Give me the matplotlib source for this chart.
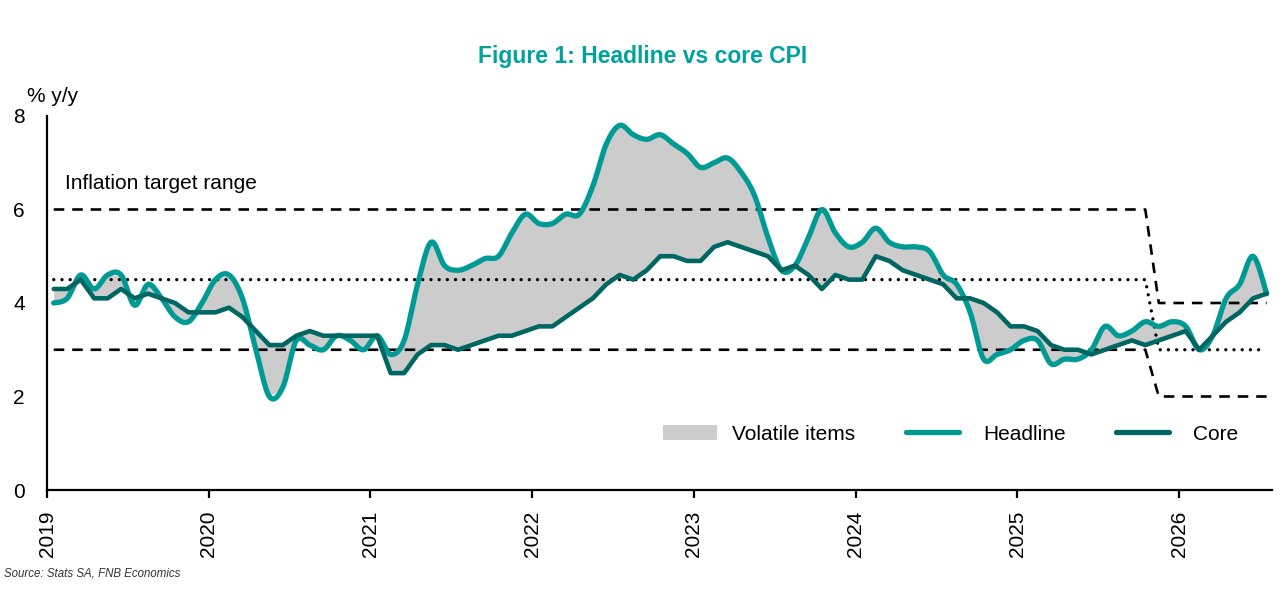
import numpy as np
import pandas as pd
import matplotlib
matplotlib.use("Agg")
import matplotlib.pyplot as plt
from matplotlib import font_manager
from matplotlib.patches import Patch
from matplotlib.lines import Line2D

# ---------------- data ----------------
start_month = "2019-01"
end_month = "2026-07"

headline = [
    # 2019
    4.0, 4.1, 4.6, 4.3, 4.6, 4.6, 3.95, 4.4, 4.1, 3.7, 3.6, 4.0,
    # 2020
    4.5, 4.6, 4.1, 3.0, 2.0, 2.2, 3.2, 3.1, 3.0, 3.3, 3.2, 3.0,
    # 2021
    3.3, 2.9, 3.2, 4.4, 5.3, 4.8, 4.7, 4.8, 4.95, 5.0, 5.5, 5.9,
    # 2022
    5.7, 5.7, 5.9, 5.9, 6.5, 7.4, 7.8, 7.6, 7.5, 7.6, 7.4, 7.2,
    # 2023
    6.9, 7.0, 7.1, 6.8, 6.3, 5.4, 4.7, 4.8, 5.4, 6.0, 5.5, 5.2,
    # 2024
    5.3, 5.6, 5.3, 5.2, 5.2, 5.1, 4.6, 4.4, 3.8, 2.8, 2.9, 3.0,
    # 2025
    3.2, 3.2, 2.7, 2.8, 2.8, 3.0, 3.5, 3.3, 3.4, 3.6, 3.5, 3.6,
    # 2026
    3.5, 3.0, 3.3, 4.1, 4.4, 5.0, 4.2,
]

core = [
    # 2019
    4.3, 4.3, 4.5, 4.1, 4.1, 4.3, 4.1, 4.2, 4.1, 4.0, 3.8, 3.8,
    # 2020
    3.8, 3.9, 3.7, 3.4, 3.1, 3.1, 3.3, 3.4, 3.3, 3.3, 3.3, 3.3,
    # 2021
    3.3, 2.5, 2.5, 2.9, 3.1, 3.1, 3.0, 3.1, 3.2, 3.3, 3.3, 3.4,
    # 2022
    3.5, 3.5, 3.7, 3.9, 4.1, 4.4, 4.6, 4.5, 4.7, 5.0, 5.0, 4.9,
    # 2023
    4.9, 5.2, 5.3, 5.2, 5.1, 5.0, 4.7, 4.8, 4.6, 4.3, 4.6, 4.5,
    # 2024
    4.5, 5.0, 4.9, 4.7, 4.6, 4.5, 4.4, 4.1, 4.1, 4.0, 3.8, 3.5,
    # 2025
    3.5, 3.4, 3.1, 3.0, 3.0, 2.9, 3.0, 3.1, 3.2, 3.1, 3.2, 3.3,
    # 2026
    3.4, 3.0, 3.3, 3.6, 3.8, 4.1, 4.2,
]

# inflation target range (breakpoints: Jan-2019, Oct-2025, Nov-2025, Jul-2026)
target_dates = ["2019-01", "2025-10", "2025-11", "2026-07"]
target_upper = [6.0, 6.0, 4.0, 4.0]
target_mid = [4.5, 4.5, 3.0, 3.0]
target_lower = [3.0, 3.0, 2.0, 2.0]

year_ticks = [2019, 2020, 2021, 2022, 2023, 2024, 2025, 2026]
legend_labels = ["Volatile items", "Headline", "Core"]

# ---------------- helpers ----------------
def mid_month(periods):
    p = pd.PeriodIndex(periods, freq="M")
    return np.asarray(p.year + (p.month - 0.5) / 12.0, dtype=float)

def smooth(x, y, n=12):
    """Excel-like smoothed line (Catmull-Rom Bezier)."""
    x = np.asarray(x, float); y = np.asarray(y, float)
    P = np.column_stack([x, y])
    out = [P[0]]
    t = np.linspace(0, 1, n + 1)[1:]
    for i in range(len(P) - 1):
        p0 = P[i - 1] if i > 0 else P[i]
        p1 = P[i]
        p2 = P[i + 1]
        p3 = P[i + 2] if i + 2 < len(P) else P[i + 1]
        c1 = p1 + (p2 - p0) / 6.0
        c2 = p2 - (p3 - p1) / 6.0
        for tt in t:
            b = ((1 - tt) ** 3) * p1 + 3 * ((1 - tt) ** 2) * tt * c1 \
                + 3 * (1 - tt) * tt ** 2 * c2 + tt ** 3 * p2
            out.append(b)
    out = np.array(out)
    return out[:, 0], out[:, 1]

months = pd.period_range(start_month, end_month, freq="M")
x = mid_month(months.astype(str))
tx = mid_month(target_dates)

HEAD_C = "#009a95"
CORE_C = "#006661"
FILL_C = "#cccccc"
TITLE_C = "#00a29c"

plt.rcParams["font.family"] = ["Liberation Sans", "DejaVu Sans"]

installed = {f.name for f in font_manager.fontManager.ttflist}
narrow = "Liberation Sans Narrow" in installed

W, H = 1281, 596
fig = plt.figure(figsize=(W / 100, H / 100), dpi=100)
ax = fig.add_axes([47 / W, (H - 490) / H, (1272 - 47) / W, (490 - 116) / H])

# volatile items area
ax.fill_between(x, core, headline, color=FILL_C, linewidth=0, zorder=1)

# target range
dash_kw = dict(color="black", lw=1.9, zorder=2)
l1, = ax.plot(tx, target_upper, **dash_kw)
l1.set_dashes([4.0, 3.0])
l2, = ax.plot(tx, target_lower, **dash_kw)
l2.set_dashes([4.0, 3.0])
l3, = ax.plot(tx, target_mid, color="black", lw=2.4, zorder=2,
              dash_capstyle="round")
l3.set_dashes([0.01, 2.45])

# series
hx, hy = smooth(x, headline)
ax.plot(hx, hy, color=HEAD_C, lw=3.8, solid_capstyle="round",
        solid_joinstyle="round", zorder=3)
ax.plot(x, core, color=CORE_C, lw=3.3, solid_capstyle="round",
        solid_joinstyle="round", zorder=4)

# axes styling
ax.set_ylim(0, 8)
ax.set_xlim(2019, 2019 + 90.9 / 12)
ax.set_yticks([0, 2, 4, 6, 8])
ax.set_xticks(year_ticks)
ax.set_xticklabels([str(v) for v in year_ticks], rotation=90, fontsize=15)
ax.tick_params(axis="y", length=0, pad=16, labelsize=15)
ax.tick_params(axis="x", length=6, width=1.6, pad=9, direction="out")
for s in ["top", "right"]:
    ax.spines[s].set_visible(False)
for s in ["left", "bottom"]:
    ax.spines[s].set_linewidth(1.6)
    ax.spines[s].set_color("black")
ax.set_facecolor("white")

ax.text(2019 + 1.3 / 12, 6.55, "Inflation target range", fontsize=15,
        ha="left", va="center")

# legend (three single-entry legends to match spacing)
leg_y = 1 - 434 / H
handles = [
    Patch(facecolor=FILL_C, edgecolor="none"),
    Line2D([], [], color=HEAD_C, lw=3.8, solid_capstyle="round"),
    Line2D([], [], color=CORE_C, lw=3.8, solid_capstyle="round"),
]
anchors = [663, 905.5, 1115.5]
pads = [0.72, 1.18, 1.18]
lengths = [2.6, 2.55, 2.55]
for h, lab, ax_x, pd_, ln in zip(handles, legend_labels, anchors, pads, lengths):
    fig.legend([h], [lab], frameon=False, fontsize=15, handlelength=ln,
               handleheight=0.7, handletextpad=pd_, loc="center left",
               bbox_to_anchor=(ax_x / W, leg_y), borderpad=0,
               borderaxespad=0)

# titles / labels
if narrow:
    title_kw = dict(fontsize=20, family=["Liberation Sans Narrow"])
    src_kw = dict(fontsize=10, family=["Liberation Sans Narrow"])
else:
    title_kw = dict(fontsize=16.5, family=["Liberation Sans"])
    src_kw = dict(fontsize=8.3, family=["Liberation Sans"])
fig.text(0.5015, 1 - 56 / H, "Figure 1: Headline vs core CPI", ha="center",
         va="center", fontweight="bold", color=TITLE_C, **title_kw)
fig.text(27 / W, 1 - 96 / H, "% y/y", ha="left", va="center", fontsize=15)
fig.text(4 / W, 1 - 574 / H, "Source: Stats SA, FNB Economics", ha="left",
         va="center", style="italic", color="#333333", **src_kw)

fig.savefig("out.png", dpi=100, facecolor="white")
